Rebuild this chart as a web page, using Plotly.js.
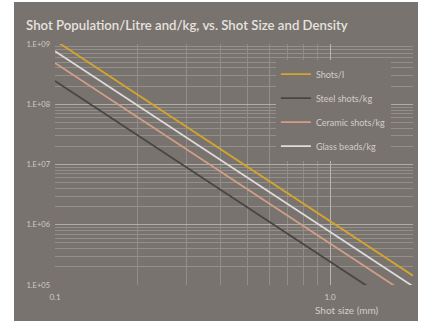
<!DOCTYPE html>
<html>
<head>
<meta charset="utf-8">
<script src="https://cdn.plot.ly/plotly-3.0.1.min.js"></script>
<style>
  html, body { margin: 0; padding: 0; background: #ffffff; width: 429px; height: 321px; overflow: hidden; }
  #chart { position: absolute; left: 14px; top: 2px; width: 404px; height: 319px; }
</style>
</head>
<body>
<div id="chart"></div>
<script>
// Shot diameter (mm)
const shotSize = [0.1, 0.2, 0.5, 1.0, 2.0];

// Number of shots per litre of bulk volume
const shotsPerLitre = [1.15e9, 1.43e8, 9.2e6, 1.15e6, 1.43e5];
// Number of shots per kilogram, by material
const steelPerKg   = [2.43e8, 3.04e7, 1.95e6, 2.43e5, 3.04e4];
const ceramicPerKg = [4.85e8, 6.1e7, 3.9e6, 4.85e5, 6.1e4];
const glassPerKg   = [7.6e8, 9.5e7, 6.1e6, 7.6e5, 9.5e4];

const seriesNames = ['Shots/l', 'Steel shots/kg', 'Ceramic shots/kg', 'Glass beads/kg'];
const seriesColors = ['#d4a52c', '#474545', '#d39e87', '#dedcda'];
const seriesValues = [shotsPerLitre, steelPerKg, ceramicPerKg, glassPerKg];

const yTickVals = [1e5, 1e6, 1e7, 1e8, 1e9];
const yTickText = ['1.E+05', '1.E+06', '1.E+07', '1.E+08', '1.E+09'];
const xTickVals = [0.1, 1.0];
const xTickText = ['0.1', '1.0'];

const bg = '#78736f';
const fontFam = 'Lato, "Open Sans", sans-serif';

const traces = seriesValues.map((vals, i) => ({
  x: shotSize,
  y: vals,
  name: seriesNames[i],
  type: 'scatter',
  mode: 'lines',
  legendgroup: 'g' + i,
  line: { color: seriesColors[i], width: 1.8 }
}));

const layout = {
  width: 404,
  height: 319,
  paper_bgcolor: bg,
  plot_bgcolor: bg,
  margin: { l: 41, r: 5, t: 42, b: 36 },
  font: { family: fontFam, color: '#cfcbc7' },
  title: {
    text: 'Shot Population/Litre and/kg, vs. Shot Size and Density',
    x: 0.03, xanchor: 'left', xref: 'container',
    y: 0.928, yanchor: 'middle', yref: 'container',
    font: { family: fontFam, size: 13.2, color: '#e6e2de', weight: 600 }
  },
  xaxis: {
    type: 'log',
    range: [-1, Math.log10(2)],
    tickvals: xTickVals,
    ticktext: xTickText,
    tickfont: { size: 8, color: '#cfcbc7' },
    showgrid: true,
    gridcolor: '#b8b4b0',
    gridwidth: 1,
    minor: { showgrid: true, dtick: 'D1', gridcolor: '#918d89', gridwidth: 1 },
    zeroline: false,
    showline: false,
    ticks: '',
    ticklabelstandoff: 6
  },
  yaxis: {
    type: 'log',
    range: [5, 9],
    tickvals: yTickVals,
    ticktext: yTickText,
    tickfont: { size: 7.5, color: '#cfcbc7' },
    showgrid: true,
    gridcolor: '#b0aca8',
    gridwidth: 1.2,
    minor: { showgrid: true, dtick: 'D1', gridcolor: '#938f8b', gridwidth: 1 },
    zeroline: false,
    showline: false,
    ticks: '',
    ticklabelstandoff: 4
  },
  showlegend: true,
  legend: {
    x: 0.617, xanchor: 'left',
    y: 0.935, yanchor: 'top',
    bgcolor: bg,
    borderwidth: 0,
    font: { size: 9, color: '#d2cec9', family: fontFam },
    tracegroupgap: 5,
    itemwidth: 30
  },
  annotations: [{
    text: 'Shot size (mm)',
    xref: 'paper', yref: 'paper',
    x: 0.815, y: -0.07,
    xanchor: 'center', yanchor: 'top',
    showarrow: false,
    font: { size: 10, color: '#d2cec9', family: fontFam }
  }]
};

Plotly.newPlot('chart', traces, layout, { staticPlot: true, displayModeBar: false });
</script>
</body>
</html>
